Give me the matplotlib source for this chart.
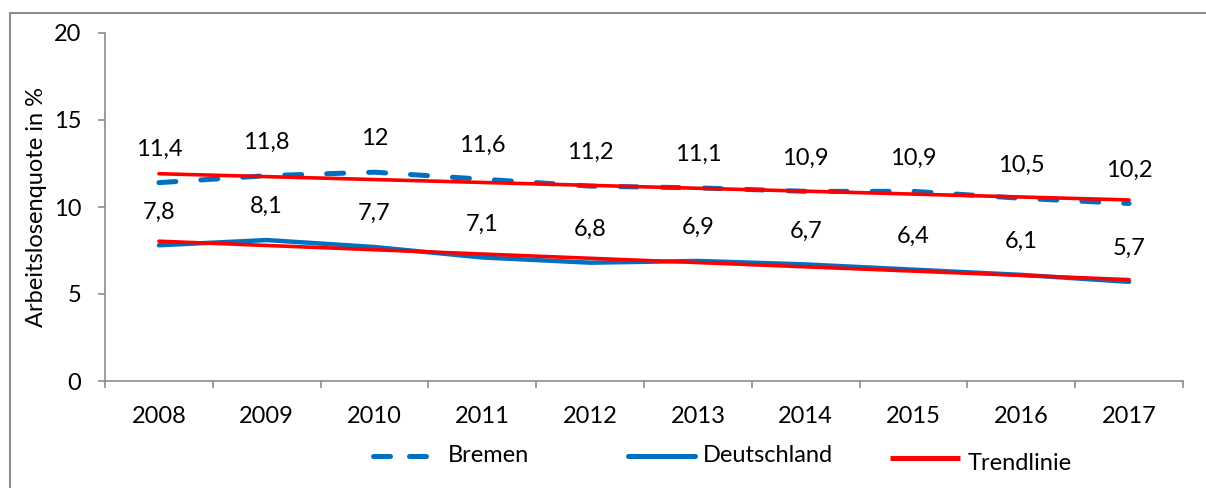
import numpy as np
import matplotlib.pyplot as plt
from matplotlib.lines import Line2D
from matplotlib.patches import Rectangle

plt.rcParams["font.family"] = ["Lato", "DejaVu Sans"]

years = ["2008", "2009", "2010", "2011", "2012", "2013", "2014", "2015", "2016", "2017"]
bremen = [11.4, 11.8, 12.0, 11.6, 11.2, 11.1, 10.9, 10.9, 10.5, 10.2]
deutschland = [7.8, 8.1, 7.7, 7.1, 6.8, 6.9, 6.7, 6.4, 6.1, 5.7]

blue = "#0070C0"
red = "#FF0000"
grey = "#8C8C8C"
fs = 17

W, H = 1206, 488
x = np.arange(len(years))

fig = plt.figure(figsize=(W / 100, H / 100), dpi=100)
ax = fig.add_axes([105 / W, 107 / H, 1078 / W, 348 / H])

# series
ax.plot(x, bremen, color=blue, lw=3.6, dashes=(3.4, 5.0),
        dash_capstyle="round", solid_capstyle="round", zorder=3)
ax.plot(x, deutschland, color=blue, lw=3.2, solid_capstyle="round", zorder=3)

# linear trendlines (like Excel)
for s in (bremen, deutschland):
    k, d = np.polyfit(x, s, 1)
    ax.plot(x, np.polyval([k, d], x), color=red, lw=2.6,
            solid_capstyle="round", zorder=4)

# data labels
def fmt(v):
    return ("%g" % v).replace(".", ",")

for s in (bremen, deutschland):
    for xi, v in zip(x, s):
        ax.annotate(fmt(v), (xi, v), xytext=(0, 24), textcoords="offset points",
                    ha="center", va="center", fontsize=fs)

ax.set_xlim(-0.5, len(years) - 0.5)
ax.set_ylim(0, 20)
ax.set_yticks([0, 5, 10, 15, 20])
ax.set_xticks(np.arange(-0.5, len(years)), [""] * (len(years) + 1))
ax.set_xticks(x, years, minor=True)
ax.tick_params(axis="x", which="major", length=5, color=grey, width=1.2)
ax.tick_params(axis="x", which="minor", length=0, pad=18, labelsize=fs)
ax.tick_params(axis="y", length=5, color=grey, width=1.2, pad=12, labelsize=fs)

for side in ("top", "right"):
    ax.spines[side].set_visible(False)
for side in ("left", "bottom"):
    ax.spines[side].set_color(grey)
    ax.spines[side].set_linewidth(1.2)

ax.set_ylabel("Arbeitslosenquote in %", fontsize=fs, labelpad=5)

# legend, placed by hand like the Excel original
def fx(px):
    return px / W


def fy(py):
    return (H - py) / H


leg_y = 456
fig.add_artist(Line2D([fx(373), fx(433)], [fy(leg_y)] * 2, color=blue, lw=3.6,
                      dashes=(3.4, 3.8), dash_capstyle="round",
                      transform=fig.transFigure))
fig.text(fx(448), fy(leg_y), "Bremen", fontsize=fs, va="center", ha="left")
fig.add_artist(Line2D([fx(628), fx(695)], [fy(leg_y)] * 2, color=blue, lw=3.6,
                      solid_capstyle="round", transform=fig.transFigure))
fig.text(fx(703), fy(leg_y), "Deutschland", fontsize=fs, va="center", ha="left")
fig.add_artist(Line2D([fx(890), fx(960)], [fy(458)] * 2, color=red, lw=3.6,
                      solid_capstyle="butt", transform=fig.transFigure))
fig.text(fx(968), fy(463), "Trendlinie", fontsize=fs, va="center", ha="left")

# outer chart border
fig.patches.append(Rectangle((10 / W, -0.2), 1.2, 0.2 + 475 / H,
                             transform=fig.transFigure, fill=False,
                             edgecolor=grey, lw=1.5, clip_on=False))

fig.savefig("out.png", dpi=100)
